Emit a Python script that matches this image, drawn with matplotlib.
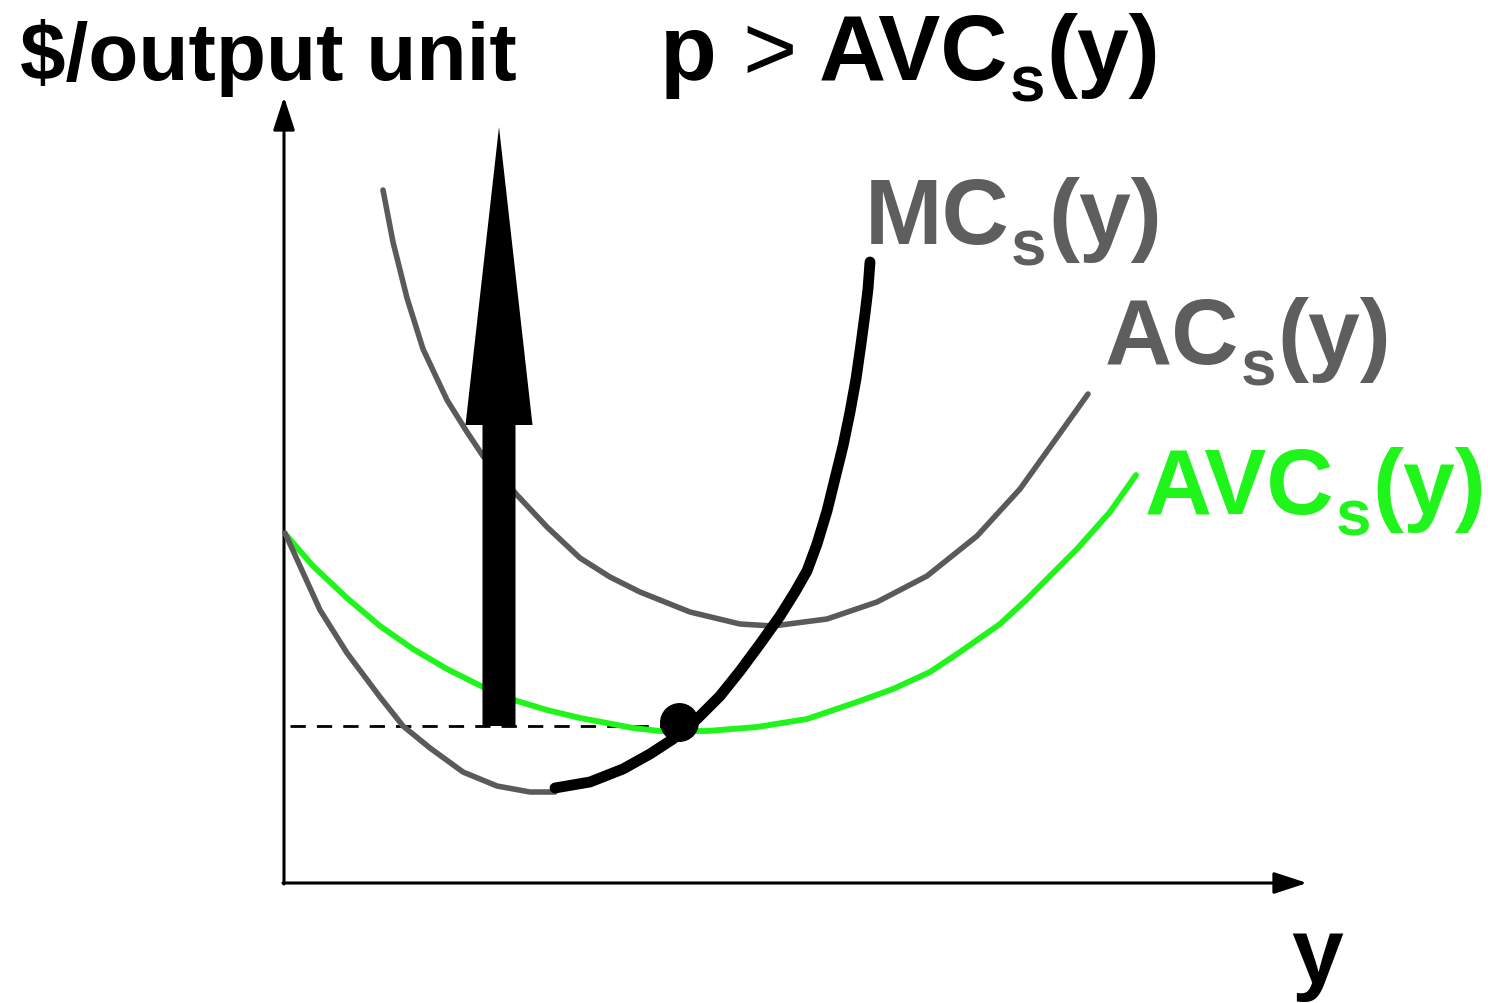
import matplotlib
matplotlib.use("Agg")
import matplotlib.pyplot as plt
from matplotlib.patches import FancyArrow

plt.rcParams['font.family'] = ['Liberation Sans', 'DejaVu Sans']

# curves (y = output, c = $ per output unit)
ac_y = [0.99, 1.09, 1.23, 1.39, 1.63, 1.83, 1.99, 2.33, 2.63, 2.96, 3.26, 3.56, 4.06, 4.56, 4.89,
        5.43, 5.93, 6.43, 6.93, 7.36, 7.69, 8.04]
ac_c = [6.93, 6.41, 5.85, 5.34, 4.83, 4.51, 4.27, 3.88, 3.56, 3.25, 3.06, 2.91, 2.71, 2.59, 2.57,
        2.64, 2.81, 3.07, 3.47, 3.94, 4.40, 4.89]

# MC below the shutdown point (thin gray part)
mc_low_y = [0.01, 0.16, 0.36, 0.63, 0.96, 1.19, 1.46, 1.79, 2.13, 2.46, 2.71]
mc_low_c = [3.50, 3.17, 2.73, 2.30, 1.86, 1.57, 1.35, 1.11, 0.97, 0.91, 0.91]

# MC, thick black part
mc_y = [2.71, 3.06, 3.39, 3.66, 3.89, 4.13, 4.36, 4.56, 4.76, 4.96, 5.11, 5.23, 5.33, 5.43,
        5.59, 5.66, 5.72, 5.77, 5.81, 5.84, 5.86]
mc_c = [0.95, 1.01, 1.14, 1.29, 1.44, 1.64, 1.87, 2.12, 2.39, 2.67, 2.91, 3.12, 3.39, 3.72,
        4.37, 4.71, 5.04, 5.39, 5.69, 5.94, 6.21]

avc_y = [0.03, 0.29, 0.63, 0.96, 1.29, 1.63, 1.99, 2.33, 2.63, 2.96, 3.23, 3.49, 3.76, 4.23,
         4.73, 5.23, 5.73, 6.09, 6.46, 6.76, 7.16, 7.43, 7.93, 8.26, 8.52]
avc_c = [3.47, 3.17, 2.85, 2.57, 2.34, 2.14, 1.96, 1.82, 1.73, 1.65, 1.60, 1.55, 1.52, 1.52,
         1.56, 1.64, 1.81, 1.94, 2.11, 2.31, 2.59, 2.84, 3.34, 3.71, 4.08]

p_level = 1.57      # dashed price line
dot_y, dot_c = 3.95, 1.61
arrow_x = 2.15
arrow_top = 7.56

gray = '#5a5a5a'
label_gray = '#5e5e5e'
green = '#1ff51a'

fig = plt.figure(figsize=(14.88, 10.04), dpi=100)
ax = fig.add_axes([0, 0, 1, 1])
ax.set_xlim(-2.84, 12.04)
ax.set_ylim(-1.20, 8.84)
ax.axis('off')

# axes with arrow heads
head = '-|>,head_length=0.58,head_width=0.19'
ax.annotate('', xy=(0, 7.86), xytext=(0, -0.01),
            arrowprops=dict(arrowstyle=head, lw=2.2, color='black',
                            mutation_scale=35, shrinkA=0, shrinkB=0))
ax.annotate('', xy=(10.23, 0), xytext=(-0.01, 0),
            arrowprops=dict(arrowstyle=head, lw=2.2, color='black',
                            mutation_scale=35, shrinkA=0, shrinkB=0))

ax.plot([0.06, dot_y], [p_level, p_level], color='black', lw=2.0, dashes=(5.5, 4), zorder=2)

line_kw = dict(solid_capstyle='round', solid_joinstyle='round')
ax.plot(avc_y, avc_c, color=green, lw=4.2, zorder=3, **line_kw)
ax.plot(ac_y, ac_c, color=gray, lw=4.0, zorder=3, **line_kw)
ax.plot(mc_low_y, mc_low_c, color=gray, lw=4.0, zorder=4, **line_kw)
ax.plot(mc_y, mc_c, color='black', lw=7.8, zorder=5, **line_kw)

# big arrow: price goes up
ax.add_patch(FancyArrow(arrow_x, p_level, 0, arrow_top - p_level, width=0.33,
                        head_width=0.67, head_length=2.98, length_includes_head=True,
                        color='black', lw=0, zorder=4))

ax.plot([dot_y], [dot_c], 'o', color='black', markersize=27, zorder=6)


def chain(x, y, pieces, color, size=67, subsize=46, drop=11.5):
    # pieces: (text, kind, gap in points); kind 'b' bold, 'r' regular, 's' subscript
    first = ax.text(x, y, pieces[0][0], fontsize=size, fontweight='bold', color=color,
                    va='baseline')
    prev = first
    for txt, kind, gap in pieces[1:]:
        if kind == 's':
            prev = ax.annotate(txt, xy=(1, 0), xycoords=(prev, first), xytext=(gap, -drop),
                               textcoords='offset points', fontsize=subsize,
                               fontweight='bold', color=color, va='bottom')
        else:
            prev = ax.annotate(txt, xy=(1, 0), xycoords=(prev, first), xytext=(gap, 0),
                               textcoords='offset points', fontsize=size,
                               fontweight='bold' if kind == 'b' else 'normal',
                               color=color, va='bottom')


ax.text(-2.64, 8.04, '$/output unit', fontsize=59, fontweight='bold', va='baseline')
chain(3.76, 8.04, [('p', 'b', 0), ('>', 'r', 18), ('AVC', 'b', 16), ('s', 's', 1), ('(y)', 'b', 1)],
      'black')
chain(5.81, 6.40, [('MC', 'b', 0), ('s', 's', 1), ('(y)', 'b', 1)], label_gray)
chain(8.21, 5.20, [('AC', 'b', 0), ('s', 's', 1), ('(y)', 'b', 1)], label_gray)
chain(8.61, 3.70, [('AVC', 'b', 0), ('s', 's', 1), ('(y)', 'b', 1)], green)
ax.text(10.33, -0.99, 'y', fontsize=67, fontweight='bold', ha='center', va='baseline')

fig.savefig('out.png', dpi=100)
